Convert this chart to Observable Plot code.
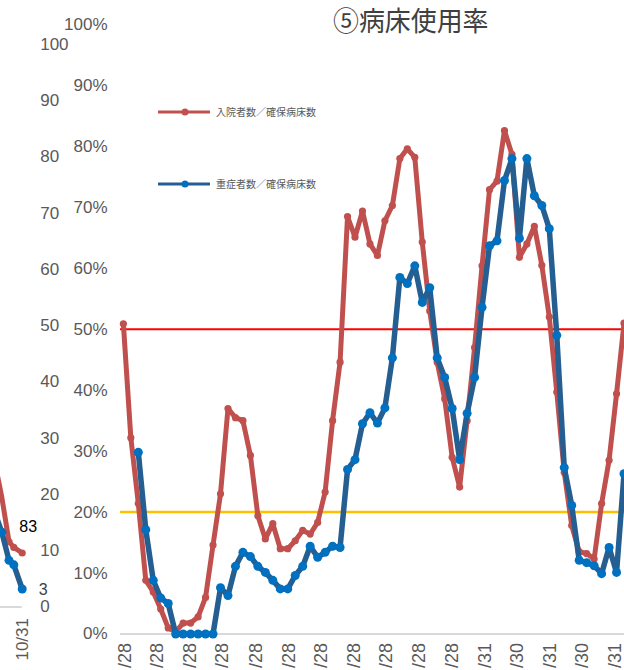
<!DOCTYPE html>
<html>
<head>
<meta charset="utf-8">
<script src="https://cdn.jsdelivr.net/npm/d3@7"></script>
<script src="https://cdn.jsdelivr.net/npm/@observablehq/plot@0.6"></script>
<style>
  html, body { margin: 0; padding: 0; background: #fff; }
  #wrap { position: relative; width: 624px; height: 670px; overflow: hidden; background: #fff; }
  #wrap > * { position: absolute; }
  #title { left: 333px; top: 0px; font-family: "Noto Sans CJK JP", sans-serif; font-size: 27px; line-height: normal;
           color: #404040; transform: scaleX(0.96); transform-origin: left top; white-space: nowrap; }
  .leg { display: flex; align-items: center; font-family: "Noto Sans CJK JP", sans-serif; font-size: 10px; color: #595959; white-space: nowrap; }
  .leg svg { margin-right: 6px; }
</style>
</head>
<body>
<div id="wrap"></div>
<script>
// ---- data (weekly) ----
const weeks = ["2020-04-26","2020-05-03","2020-05-10","2020-05-17","2020-05-24","2020-05-31","2020-06-07","2020-06-14",
  "2020-06-21","2020-06-28","2020-07-05","2020-07-12","2020-07-19","2020-07-26","2020-08-02","2020-08-09",
  "2020-08-16","2020-08-23","2020-08-30","2020-09-06","2020-09-13","2020-09-20","2020-09-27","2020-10-04",
  "2020-10-11","2020-10-18","2020-10-25","2020-11-01","2020-11-08","2020-11-15","2020-11-22","2020-11-29",
  "2020-12-06","2020-12-13","2020-12-20","2020-12-27","2021-01-03","2021-01-10","2021-01-17","2021-01-24",
  "2021-01-31","2021-02-07","2021-02-14","2021-02-21","2021-02-28","2021-03-07","2021-03-14","2021-03-21",
  "2021-03-28","2021-04-04","2021-04-11","2021-04-18","2021-04-25","2021-05-02","2021-05-09","2021-05-16",
  "2021-05-23","2021-05-30","2021-06-06","2021-06-13","2021-06-20","2021-06-27","2021-07-04","2021-07-11",
  "2021-07-18","2021-07-25","2021-08-01","2021-08-08"];
// 入院者数／確保病床数 (%)
const admitted = [50.9,32.2,21.4,8.8,6.9,4.1,1.0,0.4,1.8,1.8,2.8,6.0,14.6,23.0,37.0,35.5,
  35.0,29.3,19.4,15.6,18.1,14.0,14.0,15.3,17.0,16.4,18.3,23.3,35.0,44.6,68.5,65.1,
  69.4,64.0,62.1,67.8,70.3,78.0,79.6,78.2,64.3,53.0,44.6,38.6,29.0,24.1,35.0,47.0,
  60.4,72.9,74.3,82.6,78.7,61.8,64.0,66.9,60.5,52.0,39.7,26.5,17.8,13.5,13.2,12.3,
  21.4,28.5,39.4,51.0];
// 重症者数／確保病床数 (%)
const severe = [null,null,29.8,17.1,8.8,5.9,5.0,0,0,0,0,0,0,7.6,6.3,11.1,
  13.4,12.7,11.1,10.1,8.8,7.4,7.4,9.6,11.1,14.4,12.6,13.4,14.4,14.2,27.0,28.6,
  34.5,36.3,34.6,37.1,45.3,58.5,57.5,60.4,54.4,56.8,45.3,42.1,37.0,28.6,36.2,42.1,
  53.6,63.7,64.5,74.4,78.0,64.9,78.0,71.9,70.3,66.5,49.0,27.3,21.1,12.1,11.7,11.2,
  9.9,14.2,10.1,26.3];
const seriesNames = ["入院者数／確保病床数", "重症者数／確保病床数"];
const tickDates = ["2020-04-28","2020-05-28","2020-06-28","2020-07-28","2020-08-28","2020-09-28","2020-10-28",
  "2020-11-28","2020-12-28","2021-01-28","2021-02-28","2021-03-31","2021-04-30","2021-05-31","2021-06-30","2021-07-31"];
// the visible (cut-off) part of each date label
const tickLabels = ["/28","/28","/28","/28","/28","/28","/28","/28","/28","/28","/28","/31","/30","/31","/30","/31"];
const yTicks = [0,10,20,30,40,50,60,70,80,90,100];
const thresholds = [50, 20];
const xDomain = ["2020-04-23T07:35Z", "2021-08-08T10:40Z"];
const title = "⑤病床使用率";

// left (cut-off) neighbouring chart
const leftDays = [-25,-17,-11,-7,0];
const leftAdmitted = [28,19.5,11.6,10.6,9.6];
const leftSevere = [18,13.3,8.3,7.5,3.2];
const leftTicks = [0,10,20,30,40,50,60,70,80,90,100];
const leftTickLabel = "10/31";
const leftLabelA = {day: 0, v: 14.3, t: "83"};
const leftLabelS = {day: 0, v: 3.1, t: "3"};

// ---- build ----
const parse = d3.utcParse("%Y-%m-%d");
const rows = weeks.map((w, i) => ({date: parse(w), a: admitted[i], s: severe[i]}));
const ticks = tickDates.map(parse);
const labelOf = new Map(ticks.map((t, i) => [+t, tickLabels[i]]));
const narrow = "'Liberation Sans Narrow', 'Arial Narrow', 'Liberation Sans', sans-serif";
const wide = "'Liberation Sans', Arial, sans-serif";

const main = Plot.plot({
  width: 624, height: 670,
  marginLeft: 120, marginRight: 0, marginTop: 24, marginBottom: 36.5,
  x: {type: "utc", domain: xDomain.map(d => new Date(d))},
  y: {domain: [0, 100]},
  style: {background: "transparent", color: "#595959"},
  marks: [
    Plot.ruleY([0], {stroke: "#D9D9D9", strokeWidth: 2}),
    Plot.ruleY([thresholds[0]], {stroke: "#FF0000", strokeWidth: 2}),
    Plot.ruleY([thresholds[1]], {stroke: "#FFC000", strokeWidth: 2.5}),
    Plot.axisY(yTicks, {tickSize: 0, tickPadding: 13, tickFormat: d => d + "%", fontSize: 17, fontFamily: narrow, label: null}),
    Plot.axisX(ticks, {tickSize: 0, tickPadding: 9, tickRotate: -90, tickFormat: d => labelOf.get(+d), fontSize: 18, fontFamily: wide, label: null}),
    Plot.line(rows, {x: "date", y: "a", stroke: "#C0504D", strokeWidth: 5, strokeLinejoin: "round", strokeLinecap: "round"}),
    Plot.dot(rows, {x: "date", y: "a", fill: "#C0504D", r: 3.6}),
    Plot.line(rows.filter(d => d.s != null), {x: "date", y: "s", stroke: "#255E91", strokeWidth: 5.5, strokeLinejoin: "round", strokeLinecap: "round"}),
    Plot.dot(rows.filter(d => d.s != null), {x: "date", y: "s", fill: "#0070C0", r: 4.5})
  ]
});
main.style.left = "0px"; main.style.top = "0px";

const leftRows = leftDays.map((d, i) => ({day: d, a: leftAdmitted[i], s: leftSevere[i]}));
const left = Plot.plot({
  width: 80, height: 670,
  marginLeft: 0, marginRight: 58.3, marginTop: 44, marginBottom: 63.5,
  x: {domain: [-18.1, 0]},
  y: {domain: [0, 100]},
  style: {background: "transparent", color: "#595959", overflow: "visible"},
  marks: [
    Plot.ruleY([0], {stroke: "#D9D9D9", strokeWidth: 2}),
    Plot.axisY(leftTicks, {anchor: "right", tickSize: 0, tickPadding: 18, fontSize: 17, fontFamily: narrow, label: null}),
    Plot.axisX([0], {tickSize: 0, tickPadding: 11, tickRotate: -90, tickFormat: () => leftTickLabel, fontSize: 17, fontFamily: wide, label: null}),
    Plot.line(leftRows, {x: "day", y: "a", stroke: "#C0504D", strokeWidth: 5, strokeLinejoin: "round"}),
    Plot.dot(leftRows.slice(2), {x: "day", y: "a", fill: "#C0504D", r: 3.6}),
    Plot.line(leftRows, {x: "day", y: "s", stroke: "#255E91", strokeWidth: 5.5, strokeLinejoin: "round"}),
    Plot.dot(leftRows.slice(1), {x: "day", y: "s", fill: "#0070C0", r: 4.5}),
    Plot.text([leftLabelA], {x: "day", y: "v", text: "t", dx: 6, fill: "#000", fontSize: 16, fontFamily: narrow}),
    Plot.text([leftLabelS], {x: "day", y: "v", text: "t", dx: 21, fill: "#404040", fontSize: 16, fontFamily: narrow})
  ]
});
left.style.left = "0px"; left.style.top = "0px";

const wrap = document.getElementById("wrap");
wrap.appendChild(main);
wrap.appendChild(left);

const t = document.createElement("div");
t.id = "title"; t.textContent = title;
wrap.appendChild(t);

const legendColors = [["#C0504D", "#C0504D"], ["#255E91", "#0070C0"]];
const legendTops = [104, 176];
seriesNames.forEach((name, i) => {
  const el = document.createElement("div");
  el.className = "leg";
  el.style.left = "158px"; el.style.top = legendTops[i] + "px";
  el.innerHTML = `<svg width="52" height="14"><line x1="0" x2="52" y1="7" y2="7" stroke="${legendColors[i][0]}" stroke-width="3"/>` +
    `<circle cx="27" cy="7" r="3.5" fill="${legendColors[i][1]}"/></svg><span>${name}</span>`;
  wrap.appendChild(el);
});
</script>
</body>
</html>
